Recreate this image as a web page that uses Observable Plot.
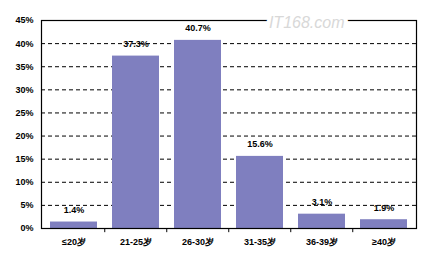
<!DOCTYPE html>
<html><head><meta charset="utf-8">
<script src="https://cdn.jsdelivr.net/npm/d3@7"></script>
<script src="https://cdn.jsdelivr.net/npm/@observablehq/plot@0.6"></script>
<style>body{margin:0;background:#fff}</style>
</head><body><div id="chart"></div>
<script>
const categories = ["≤20岁", "21-25岁", "26-30岁", "31-35岁", "36-39岁", "≥40岁"];
const values = [1.4, 37.3, 40.7, 15.6, 3.1, 1.9];
const yTicks = [0, 5, 10, 15, 20, 25, 30, 35, 40, 45];
const gridLines = [5, 10, 15, 20, 25, 30, 35, 40];

const data = categories.map((c, i) => ({cat: c, v: values[i]}));
const W = 430, H = 266, mL = 41, mR = 14, mT = 20, mB = 38;
const halfStep = (W - mL - mR) / categories.length / 2;

const chart = Plot.plot({
  width: W, height: H,
  marginLeft: mL, marginRight: mR, marginTop: mT, marginBottom: mB,
  style: {fontFamily: "'Liberation Sans', Arial, sans-serif", fontSize: "9px", fontWeight: "bold", color: "#000", background: "#fff"},
  x: {domain: categories, paddingInner: 0.25, paddingOuter: 0.125, label: null, tickSize: 0, tickPadding: 10},
  y: {domain: [0, 45], ticks: yTicks, tickFormat: d => d + "%", label: null, tickSize: 0, tickPadding: 8},
  marks: [
    Plot.ruleY(gridLines, {stroke: "#000", strokeDasharray: "4,3", strokeWidth: 1}),
    Plot.barY(data, {x: "cat", y: "v", fill: "#7f7fbf"}),
    Plot.text(data, {x: "cat", y: "v", text: d => d.v.toFixed(1) + "%", dy: -12, fill: "#000", fontWeight: "bold", fontSize: 9}),
    Plot.ruleX(categories.slice(1), {x: d => d, y1: 0, y2: -0.9, dx: -halfStep, stroke: "#000"}),
    Plot.frame({stroke: "#000", strokeWidth: 1.2}),
    Plot.text(["IT168.com"], {frameAnchor: "top-right", dx: -72, dy: -4, text: d => d, fill: "#d8d8d8", stroke: "#fff", strokeWidth: 8, paintOrder: "stroke", fontStyle: "italic", fontSize: 16, fontWeight: "normal"})
  ]
});
document.getElementById("chart").appendChild(chart);
</script>
</body></html>
